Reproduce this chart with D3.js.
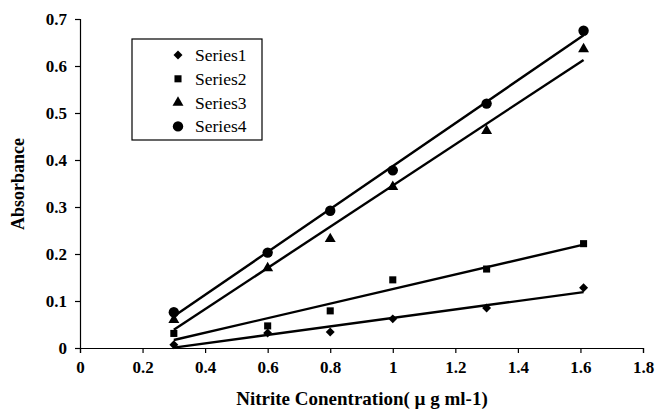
<!DOCTYPE html>
<html>
<head>
<meta charset="utf-8">
<script src="https://cdn.jsdelivr.net/npm/d3@7"></script>
<style>
  body { margin: 0; background: #fff; }
</style>
</head>
<body>
<div id="chart"></div>
<script>
// Concentrations (x) and absorbance readings for each series
const concentrations = [0.3, 0.6, 0.8, 1.0, 1.3, 1.61];
const series1 = [0.007, 0.032, 0.034, 0.062, 0.085, 0.128];
const series2 = [0.031, 0.047, 0.079, 0.145, 0.168, 0.222];
const series3 = [0.06, 0.17, 0.232, 0.343, 0.462, 0.636];
const series4 = [0.076, 0.203, 0.292, 0.378, 0.52, 0.675];
const seriesNames = ['Series1', 'Series2', 'Series3', 'Series4'];
const xTicks = [0, 0.2, 0.4, 0.6, 0.8, 1, 1.2, 1.4, 1.6, 1.8];
const yTicks = [0, 0.1, 0.2, 0.3, 0.4, 0.5, 0.6, 0.7];

const W = 657, H = 412;
const margin = { top: 19, left: 80 };
const serif = "'Liberation Serif', serif";

const svg = d3.select('#chart').append('svg')
    .attr('width', W)
    .attr('height', H)
    .attr('font-family', serif);

const g = svg.append('g')
    .attr('transform', `translate(${margin.left},${margin.top})`);

const x = d3.scaleLinear().domain([0, 1.8]).range([0, 563]);
const y = d3.scaleLinear().domain([0, 0.7]).range([329, 0]);

// Axes
const xAxis = d3.axisBottom(x).tickValues(xTicks).tickSize(5).tickPadding(8)
    .tickFormat(d => d3.format('~g')(d));
const yAxis = d3.axisLeft(y).tickValues(yTicks).tickSize(5).tickPadding(8)
    .tickFormat(d => d3.format('~g')(d));

const gx = g.append('g').attr('transform', `translate(0,${y(0)})`).call(xAxis);
const gy = g.append('g').call(yAxis);

[gx, gy].forEach(a => {
    a.attr('font-family', serif);
    a.select('.domain').attr('stroke', '#000').attr('stroke-width', 1.2);
    a.selectAll('.tick line').attr('stroke', '#000').attr('stroke-width', 1.2);
    a.selectAll('.tick text')
        .attr('style', `font-family:${serif};font-size:17px;font-weight:bold`)
        .attr('fill', '#000');
});

// Axis titles
svg.append('text')
    .attr('transform', `translate(24,${margin.top + 165}) rotate(-90)`)
    .attr('text-anchor', 'middle')
    .attr('style', `font-family:${serif};font-size:18px;font-weight:bold`)
    .text('Absorbance');

svg.append('text')
    .attr('x', 362)
    .attr('y', 405)
    .attr('text-anchor', 'middle')
    .attr('style', `font-family:${serif};font-size:19px;font-weight:bold`)
    .text('Nitrite Conentration( \u00b5 g ml-1)');

// Data + trend lines
const allSeries = [series1, series2, series3, series4];
const symbols = [
    d3.symbol().type(d3.symbolSquare).size(40),
    d3.symbol().type(d3.symbolSquare).size(50),
    d3.symbol().type(d3.symbolTriangle).size(52),
    d3.symbol().type(d3.symbolCircle).size(85)
];
const rotations = [45, 0, 0, 0];

// least-squares fit like the spreadsheet trendline
function fit(xs, ys) {
    const mx = d3.mean(xs), my = d3.mean(ys);
    let sxy = 0, sxx = 0;
    xs.forEach((v, i) => { sxy += (v - mx) * (ys[i] - my); sxx += (v - mx) * (v - mx); });
    const b = sxy / sxx;
    return v => my + b * (v - mx);
}

const x0 = d3.min(concentrations), x1 = d3.max(concentrations);

allSeries.forEach((vals, si) => {
    const f = fit(concentrations, vals);
    g.append('line')
        .attr('x1', x(x0)).attr('y1', y(f(x0)))
        .attr('x2', x(x1)).attr('y2', y(f(x1)))
        .attr('stroke', '#000')
        .attr('stroke-width', 2.4);

    g.selectAll(null)
        .data(vals)
        .enter()
        .append('path')
        .attr('d', symbols[si])
        .attr('transform', (d, i) => `translate(${x(concentrations[i])},${y(d)}) rotate(${rotations[si]})`)
        .attr('fill', '#000');
});

// Legend
const legend = svg.append('g').attr('transform', 'translate(132,39)');
legend.append('rect')
    .attr('width', 130).attr('height', 101)
    .attr('fill', '#fff')
    .attr('stroke', '#000')
    .attr('stroke-width', 1.2);

seriesNames.forEach((name, i) => {
    const row = legend.append('g').attr('transform', `translate(0,${16 + i * 23.8})`);
    row.append('path')
        .attr('d', symbols[i])
        .attr('transform', `translate(46,0) rotate(${rotations[i]})`)
        .attr('fill', '#000');
    row.append('text')
        .attr('x', 63)
        .attr('y', 6)
        .attr('style', `font-family:${serif};font-size:17.5px`)
        .text(name);
});
</script>
</body>
</html>
